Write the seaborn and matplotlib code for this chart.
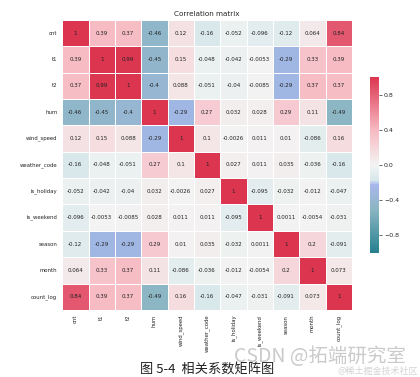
import numpy as np
import pandas as pd
import matplotlib
matplotlib.use('Agg')
import matplotlib.pyplot as plt
from matplotlib.colors import LinearSegmentedColormap
import seaborn as sns

# variable names
labels = ['cnt', 't1', 't2', 'hum', 'wind_speed', 'weather_code',
          'is_holiday', 'is_weekend', 'season', 'month', 'count_log']

# correlation rows
cnt = [1, 0.39, 0.37, -0.46, 0.12, -0.16, -0.052, -0.096, -0.12, 0.064, 0.84]
t1 = [0.39, 1, 0.99, -0.45, 0.15, -0.048, -0.042, -0.0053, -0.29, 0.33, 0.39]
t2 = [0.37, 0.99, 1, -0.4, 0.088, -0.051, -0.04, -0.0085, -0.29, 0.37, 0.37]
hum = [-0.46, -0.45, -0.4, 1, -0.29, 0.27, 0.032, 0.028, 0.29, 0.11, -0.49]
wind_speed = [0.12, 0.15, 0.088, -0.29, 1, 0.1, -0.0026, 0.011, 0.01, -0.086, 0.16]
weather_code = [-0.16, -0.048, -0.051, 0.27, 0.1, 1, 0.027, 0.011, 0.035, -0.036, -0.16]
is_holiday = [-0.052, -0.042, -0.04, 0.032, -0.0026, 0.027, 1, -0.095, -0.032, -0.012, -0.047]
is_weekend = [-0.096, -0.0053, -0.0085, 0.028, 0.011, 0.011, -0.095, 1, 0.0011, -0.0054, -0.031]
season = [-0.12, -0.29, -0.29, 0.29, 0.01, 0.035, -0.032, 0.0011, 1, 0.2, -0.091]
month = [0.064, 0.33, 0.37, 0.11, -0.086, -0.036, -0.012, -0.0054, 0.2, 1, 0.073]
count_log = [0.84, 0.39, 0.37, -0.49, 0.16, -0.16, -0.047, -0.031, -0.091, 0.073, 1]

corr = pd.DataFrame([cnt, t1, t2, hum, wind_speed, weather_code, is_holiday,
                     is_weekend, season, month, count_log],
                    index=labels, columns=labels)

# colour map close to the (quantised) one in the picture
cmap = LinearSegmentedColormap.from_list('corr', [
    (0.00, '#25808f'),
    (0.25, '#8cb6c3'),
    (0.39, '#a9b7ee'),
    (0.41, '#d6e7ea'),
    (0.50, '#f3f3f2'),
    (0.70, '#f7b9c2'),
    (1.00, '#dc3550'),
])

sns.set_style('white')
plt.rcParams['font.family'] = ['DejaVu Sans', 'Noto Sans CJK SC']

fig = plt.figure(figsize=(4.2, 3.77), dpi=100)
ax = fig.add_axes([0.148, 0.178, 0.690, 0.769])
cax = fig.add_axes([0.881, 0.329, 0.022, 0.467])

sns.heatmap(corr, ax=ax, cbar_ax=cax, cmap=cmap, vmin=-1, vmax=1,
            annot=True, fmt='.2g', linewidths=0.6, linecolor='white',
            annot_kws={'fontsize': 4.0, 'color': '#222222'})

ax.set_title('Correlation matrix', fontsize=5.2, pad=3)
ax.tick_params(axis='both', labelsize=3.9, length=2, width=0.5, pad=1.5)
ax.set_xticklabels(labels, rotation=90)
ax.set_yticklabels(labels, rotation=0)

cax.tick_params(labelsize=4.5, length=2, width=0.5, pad=1.5)
cax.set_yticks([0.8, 0.4, 0.0, -0.4, -0.8])
cax.set_yticklabels(['0.8', '0.4', '0.0', '\u22120.4', '\u22120.8'])
for s in cax.spines.values():
    s.set_visible(False)

fig.text(0.492, 0.0, '图 5-4  相关系数矩阵图', ha='center', va='bottom',
         fontsize=9.5, family=['Noto Sans CJK SC'], color='#222222')
fig.text(0.558, 0.027, 'CSDN @拓端研究室', ha='left', va='bottom',
         fontsize=14, family=['Noto Sans CJK SC'], color='#cacaca')
fig.text(0.995, 0.004, '@稀土掘金技术社区', ha='right', va='bottom',
         fontsize=6.5, family=['Noto Sans CJK SC'], color='#d4d4d4')

fig.savefig('out.png', dpi=100)
